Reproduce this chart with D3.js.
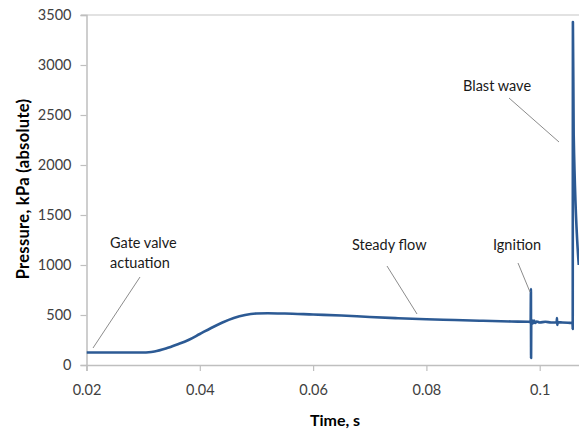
<!DOCTYPE html>
<html>
<head>
<meta charset="utf-8">
<script src="https://cdn.jsdelivr.net/npm/d3@7/dist/d3.min.js"></script>
<style>
  html, body { margin: 0; padding: 0; background: #fff; }
  svg { display: block; font-family: Lato, "Open Sans", sans-serif; }
</style>
</head>
<body>
<svg id="chart" width="579" height="431"></svg>
<script>
// Pressure trace: time (s) and absolute pressure (kPa)
const time = [
  0.020, 0.025, 0.030, 0.031, 0.032, 0.034, 0.036, 0.038, 0.040, 0.042,
  0.044, 0.046, 0.048, 0.050, 0.052, 0.055, 0.060, 0.065, 0.070, 0.075,
  0.080, 0.085, 0.090, 0.095, 0.098, 0.0984, 0.09845, 0.09848, 0.09851,
  0.0986, 0.0988, 0.0990, 0.0992, 0.0995, 0.1000, 0.1010, 0.1020, 0.1030,
  0.10305, 0.1031, 0.1032, 0.1040, 0.1050, 0.1058, 0.10583, 0.10586,
  0.10600, 0.10690
];
const pressure = [
  125, 125, 125, 127, 135, 165, 205, 250, 310, 370,
  425, 470, 500, 515, 518, 515, 505, 495, 480, 468,
  458, 450, 442, 435, 432, 430, 760, 70, 440,
  450, 415, 445, 420, 435, 425, 432, 425, 428,
  470, 400, 428, 425, 422, 420, 360, 3430,
  2300, 1000
];

const xTicks = [0.02, 0.04, 0.06, 0.08, 0.1];
const yTicks = [0, 500, 1000, 1500, 2000, 2500, 3000, 3500];

// Callout labels
const notes = [
  { lines: ["Gate valve", "actuation"] },
  { lines: ["Steady flow"] },
  { lines: ["Ignition"] },
  { lines: ["Blast wave"] }
];

const svg = d3.select("#chart");
const x = d3.scaleLinear().domain([0.02, 0.12]).range([86.5, 653]);
const y = d3.scaleLinear().domain([0, 3500]).range([365, 15]);

const axisColor = "#bfbfbf";
const textColor = "#404040";

// Top gridline at 3500
svg.append("line")
  .attr("x1", 81).attr("x2", 579)
  .attr("y1", y(3500)).attr("y2", y(3500))
  .attr("stroke", "#d9d9d9").attr("stroke-width", 1.5);

// Y axis
const yAxis = svg.append("g")
  .attr("transform", `translate(${x(0.02)},0)`)
  .call(d3.axisLeft(y).tickValues(yTicks).tickSize(6).tickPadding(9).tickFormat(d3.format("d")));
yAxis.select(".domain").attr("stroke", axisColor).attr("stroke-width", 1.5);
yAxis.selectAll(".tick line").attr("stroke", axisColor).attr("stroke-width", 1.2);
yAxis.selectAll(".tick text").attr("fill", textColor).style("font-size", "14.5px").style("font-family", "Lato, sans-serif");

// X axis
const xAxis = svg.append("g")
  .attr("transform", `translate(0,${y(0)})`)
  .call(d3.axisBottom(x).tickValues(xTicks).tickSize(6).tickPadding(14).tickFormat(d => String(+d.toFixed(2))));
xAxis.select(".domain").attr("stroke", axisColor).attr("stroke-width", 1.5);
xAxis.selectAll(".tick line").attr("stroke", axisColor).attr("stroke-width", 1.2);
xAxis.selectAll(".tick text").attr("fill", textColor).style("font-size", "14.5px").style("font-family", "Lato, sans-serif");

// Axis titles
svg.append("text")
  .attr("x", 335).attr("y", 426)
  .attr("text-anchor", "middle")
  .attr("font-weight", "bold").attr("font-size", 16).attr("fill", "#000")
  .text("Time, s");
svg.append("text")
  .attr("transform", "translate(29,189) rotate(-90)")
  .attr("text-anchor", "middle")
  .attr("font-weight", "bold").attr("font-size", 16.5).attr("fill", "#000")
  .attr("letter-spacing", 0.3)
  .text("Pressure, kPa (absolute)");

// Pressure trace
const data = time.map((t, i) => ({ t, p: pressure[i] }));
svg.append("defs").append("clipPath").attr("id", "plotClip")
  .append("rect").attr("x", x(0.02)).attr("y", 0).attr("width", 600).attr("height", y(0));
svg.append("path")
  .datum(data)
  .attr("clip-path", "url(#plotClip)")
  .attr("fill", "none")
  .attr("stroke", "#2c5a94")
  .attr("stroke-width", 2.6)
  .attr("stroke-linejoin", "round")
  .attr("d", d3.line().x(d => x(d.t)).y(d => y(d.p)).curve(d3.curveMonotoneX));

// Callout leader lines and labels
const leaders = [
  [140, 277, 93, 348],
  [387, 266, 417, 314],
  [518, 263, 530, 292],
  [509, 98, 559, 142]
];
const labelPos = [[110, 248], [352, 250], [493, 250], [463, 91]];
svg.selectAll("line.leader").data(leaders).enter().append("line")
  .attr("class", "leader")
  .attr("x1", d => d[0]).attr("y1", d => d[1])
  .attr("x2", d => d[2]).attr("y2", d => d[3])
  .attr("stroke", "#8c8c8c").attr("stroke-width", 1);
notes.forEach((n, i) => {
  const t = svg.append("text")
    .attr("x", labelPos[i][0]).attr("y", labelPos[i][1])
    .attr("font-size", 14.5).attr("fill", "#1a1a1a");
  n.lines.forEach((ln, j) => {
    t.append("tspan").attr("x", labelPos[i][0]).attr("dy", j === 0 ? 0 : 20).text(ln);
  });
});
</script>
</body>
</html>
